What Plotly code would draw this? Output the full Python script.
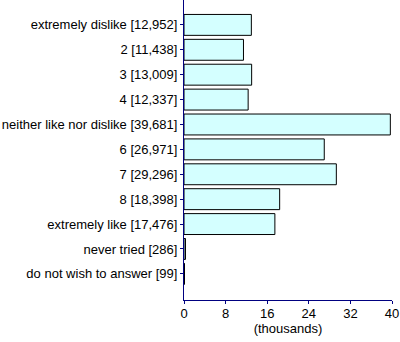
import plotly.graph_objects as go

categories = ["extremely dislike [12,952]", "2 [11,438]", "3 [13,009]", "4 [12,337]",
              "neither like nor dislike [39,681]", "6 [26,971]", "7 [29,296]", "8 [18,398]",
              "extremely like [17,476]", "never tried [286]", "do not wish to answer [99]"]
counts = [12952, 11438, 13009, 12337, 39681, 26971, 29296, 18398, 17476, 286, 99]
values_k = [c / 1000 for c in counts]
x_ticks = [0, 8, 16, 24, 32, 40]

fig = go.Figure(go.Bar(
    y=categories, x=values_k, orientation="h",
    width=0.84,
    marker=dict(color="#d4ffff", line=dict(color="black", width=1)),
))
fig.update_layout(
    width=400, height=342,
    margin=dict(l=184, r=8, t=0, b=42),
    paper_bgcolor="white", plot_bgcolor="white",
    showlegend=False,
    font=dict(family="Liberation Sans, Arial", size=13, color="black"),
)
fig.update_xaxes(
    range=[0, 40], tickvals=x_ticks, ticktext=[str(t) for t in x_ticks],
    showgrid=False, zeroline=False, showline=True, linecolor="#000080", linewidth=1,
    ticks="outside", ticklen=3, tickcolor="#000080", ticklabelstandoff=-2,
    title=dict(text="(thousands)", standoff=1, font=dict(size=13)),
)
fig.update_yaxes(
    type="category", categoryorder="array", categoryarray=categories,
    range=[11.05, -1.0], showgrid=False, zeroline=False,
    showline=True, linecolor="#000080", linewidth=1,
    ticks="outside", ticklen=3, tickcolor="#000080",
)
fig.write_html("out.html")
